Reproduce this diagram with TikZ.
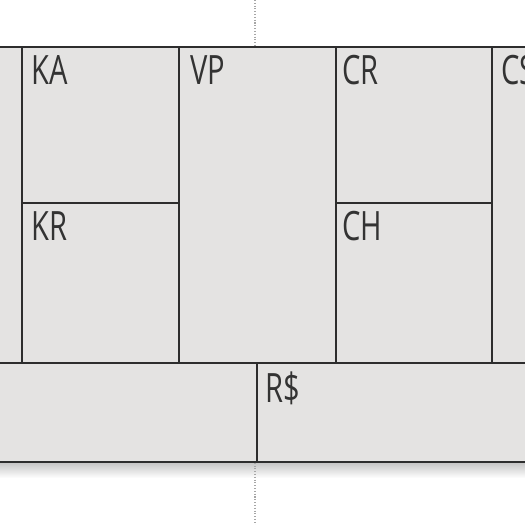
\documentclass[tikz,border=0pt]{standalone}
\usepackage{fontspec}
\setsansfont{Open Sans}[FakeStretch=0.72]
\usetikzlibrary{positioning,calc}
\definecolor{canvasfill}{RGB}{228,227,226}
\definecolor{canvasline}{RGB}{45,45,45}

\begin{document}
\begin{tikzpicture}[
  x=0.02cm, y=-0.02cm,
  cell/.style={draw=canvasline,fill=canvasfill,line width=1pt,anchor=north west,inner sep=0pt},
  tag/.style={anchor=base west,inner sep=0pt,font=\sffamily\fontsize{23}{23}\selectfont,text=black!80},
  guide/.style={gray!70,densely dotted,line width=0.6pt}
]
\useasboundingbox (0,0) rectangle (525,525);
\clip (0,0) rectangle (525,525);

% ---- shadow under the canvas ----
\shade[top color=black!25,bottom color=white] (0,461) rectangle (525,478);

% ---- top row of blocks ----
\node[cell,minimum width=0.82cm,minimum height=6.32cm] (kp) at (-20,46) {};
\node[cell,minimum width=3.14cm,minimum height=3.12cm] (ka) at (21,46) {};
\node[cell,minimum width=3.14cm,minimum height=3.20cm] (kr) at (21,202) {};
\node[cell,minimum width=3.14cm,minimum height=6.32cm] (vp) at (178,46) {};
\node[cell,minimum width=3.12cm,minimum height=3.12cm] (cr) at (335,46) {};
\node[cell,minimum width=3.12cm,minimum height=3.20cm] (ch) at (335,202) {};
\node[cell,minimum width=1.60cm,minimum height=6.32cm] (cs) at (491,46) {};

% ---- bottom row ----
\node[cell,minimum width=5.52cm,minimum height=1.98cm] (cost) at (-20,362) {};
\node[cell,minimum width=6.40cm,minimum height=1.98cm] (rev) at (256,362) {};

% ---- block titles ----
\node[tag] (kaT) at ($(ka.north west)+(10,38)$) {KA};
\node[tag] (krT) at ($(kr.north west)+(10,38)$) {KR};
\node[tag] (vpT) at ($(vp.north west)+(12,38)$) {VP};
\node[tag] (crT) at ($(cr.north west)+(7,38)$) {CR};
\node[tag] (chT) at ($(ch.north west)+(7,38)$) {CH};
\node[tag] (csT) at ($(cs.north west)+(10,38)$) {CS};
\node[tag] (revT) at ($(rev.north west)+(9,40)$) {R\$};

% ---- centre guide ----
\coordinate (gtop) at (255,0);
\coordinate (gbot) at (255,525);
\draw[guide] (gtop) -- (vp.north -| gtop);
\draw[guide] (rev.south west -| gbot) -- (gbot);

\end{tikzpicture}
\end{document}
